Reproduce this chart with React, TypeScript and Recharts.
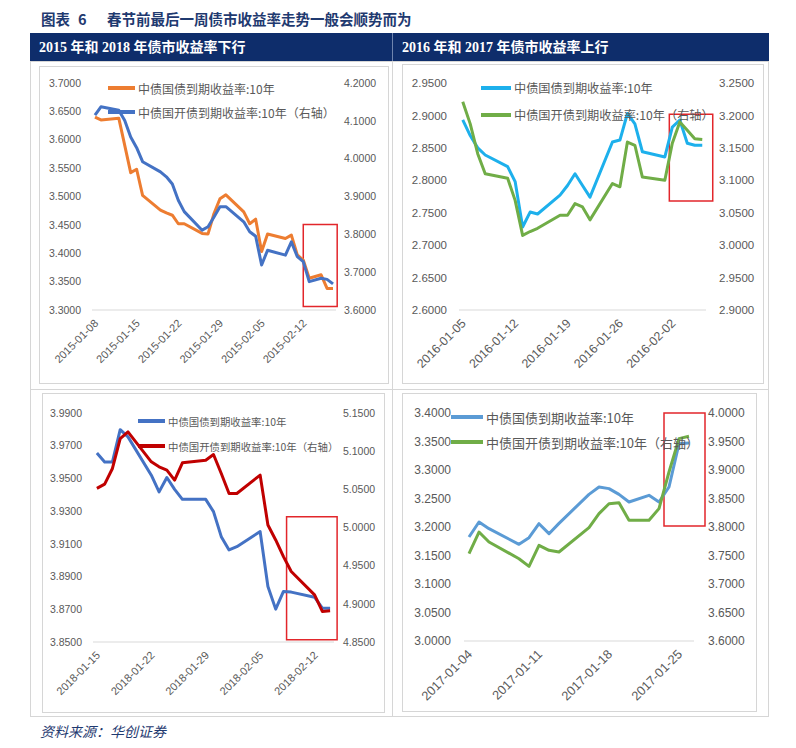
import React from "react";
import { LineChart, Line, XAxis, YAxis, ReferenceArea } from "recharts";

// 2015: trading days counted from 2015-01-08
const days2015 = [0, 1, 4, 5, 6, 7, 8, 11, 12, 13, 14, 15, 18, 19, 20, 21, 22, 25, 26, 27, 28, 29, 32, 33, 34, 35, 36, 38, 39, 40];
const gov2015 = [3.640, 3.635, 3.638, 3.590, 3.542, 3.548, 3.502, 3.476, 3.471, 3.467, 3.452, 3.452, 3.435, 3.434, 3.470, 3.496, 3.503, 3.473, 3.452, 3.460, 3.403, 3.434, 3.426, 3.432, 3.397, 3.388, 3.356, 3.362, 3.338, 3.338];
const cdb2015 = [4.115, 4.137, 4.128, 4.101, 4.057, 4.029, 3.992, 3.965, 3.952, 3.933, 3.890, 3.860, 3.811, 3.820, 3.846, 3.873, 3.873, 3.833, 3.807, 3.795, 3.719, 3.758, 3.745, 3.780, 3.741, 3.728, 3.675, 3.684, 3.681, 3.669];
const dates2015 = ["2015-01-08", "2015-01-15", "2015-01-22", "2015-01-29", "2015-02-05", "2015-02-12"];
const left2015 = [3.3, 3.35, 3.4, 3.45, 3.5, 3.55, 3.6, 3.65, 3.7];
const right2015 = [3.6, 3.7, 3.8, 3.9, 4.0, 4.1, 4.2];

// 2016: trading days counted from 2016-01-05
const days2016 = [0, 1, 2, 3, 6, 7, 8, 9, 10, 13, 14, 15, 16, 17, 20, 21, 22, 23, 24, 27, 28, 29, 30, 31, 32];
const gov2016 = [2.893, 2.869, 2.850, 2.839, 2.821, 2.798, 2.728, 2.751, 2.748, 2.777, 2.792, 2.810, 2.792, 2.774, 2.859, 2.862, 2.903, 2.887, 2.844, 2.836, 2.882, 2.893, 2.857, 2.854, 2.854];
const cdb2016 = [3.221, 3.187, 3.141, 3.110, 3.103, 3.069, 3.015, 3.021, 3.026, 3.046, 3.046, 3.064, 3.059, 3.039, 3.095, 3.090, 3.159, 3.154, 3.105, 3.100, 3.157, 3.190, 3.177, 3.164, 3.163];
const dates2016 = ["2016-01-05", "2016-01-12", "2016-01-19", "2016-01-26", "2016-02-02"];
const left2016 = [2.6, 2.65, 2.7, 2.75, 2.8, 2.85, 2.9, 2.95];
const right2016 = [2.9, 2.95, 3.0, 3.05, 3.1, 3.15, 3.2, 3.25];

// 2018: trading days counted from 2018-01-15
const days2018 = [0, 1, 2, 3, 4, 7, 8, 9, 10, 11, 14, 15, 16, 17, 18, 21, 22, 23, 24, 25, 28, 29, 30];
const gov2018 = [3.9656, 3.9601, 3.9601, 3.9798, 3.9754, 3.9520, 3.9418, 3.9506, 3.9433, 3.9372, 3.9372, 3.9297, 3.9144, 3.9063, 3.9083, 3.9175, 3.8839, 3.8701, 3.8809, 3.8805, 3.8774, 3.8707, 3.8707];
const cdb2018 = [5.0512, 5.0568, 5.0773, 5.1165, 5.1252, 5.0860, 5.0795, 5.0751, 5.0621, 5.0847, 5.0882, 5.0956, 5.0708, 5.0446, 5.0446, 5.0686, 5.0033, 4.9837, 4.9619, 4.9423, 4.9118, 4.8901, 4.8909];
const dates2018 = ["2018-01-15", "2018-01-22", "2018-01-29", "2018-02-05", "2018-02-12"];
const left2018 = [3.85, 3.87, 3.89, 3.91, 3.93, 3.95, 3.97, 3.99];
const right2018 = [4.85, 4.9, 4.95, 5.0, 5.05, 5.1, 5.15];

// 2017: trading days counted from 2017-01-04
const days2017 = [0, 1, 2, 5, 6, 7, 8, 9, 12, 13, 14, 15, 16, 18, 19, 20, 21, 22];
const gov2017 = [3.1825, 3.2088, 3.1971, 3.1696, 3.1813, 3.2058, 3.1883, 3.2064, 3.2573, 3.2702, 3.2673, 3.2573, 3.2439, 3.2556, 3.2439, 3.2702, 3.3462, 3.3474];
const cdb2017 = [3.7532, 3.7912, 3.7737, 3.7444, 3.7310, 3.7678, 3.7591, 3.7561, 3.7988, 3.8234, 3.8409, 3.8427, 3.8117, 3.8117, 3.8322, 3.8965, 3.9550, 3.9591];
const dates2017 = ["2017-01-04", "2017-01-11", "2017-01-18", "2017-01-25"];
const left2017 = [3.0, 3.05, 3.1, 3.15, 3.2, 3.25, 3.3, 3.35, 3.4];
const right2017 = [3.6, 3.65, 3.7, 3.75, 3.8, 3.85, 3.9, 3.95, 4.0];

const GOV_NAME = "中债国债到期收益率:10年";
const CDB_NAME = "中债国开债到期收益率:10年（右轴）";
const NAVY = "#0E2D6B";
const TXT = "#595959";
const BORDER = "#D6D6D6";

function DateTick(props: any) {
  const { x, y, payload, labels, fontSize } = props;
  const label = labels[Math.round(payload.value / 7)];
  return (
    <g transform={`translate(${x + 4},${y + 12})`}>
      <text textAnchor="end" transform="rotate(-45)" fontSize={fontSize} fill={TXT} fontFamily="Liberation Sans, Arial, sans-serif">
        {label}
      </text>
    </g>
  );
}

function Panel(props: any) {
  const { box, days, gov, cdb, dates, leftTicks, rightTicks, colors, ax, legend, mark } = props;
  const rows = days.map((d: number, i: number) => ({ day: d, gov: gov[i], cdb: cdb[i] }));
  const last = days[days.length - 1];
  const tickStyle = { fontSize: ax.fs, fill: TXT, fontFamily: "Liberation Sans, Arial, sans-serif" };
  return (
    <div style={{ position: "absolute", left: box.x, top: box.y, width: box.w, height: box.h, border: `1px solid ${BORDER}`, boxSizing: "border-box" }}>
      <div style={{ position: "absolute", left: -1, top: -1 }}>
        <LineChart width={box.w} height={box.h} data={rows} margin={{ top: ax.mt, right: 0, bottom: 0, left: 0 }}>
          <XAxis
            type="number"
            dataKey="day"
            domain={[-0.5, last + 0.5]}
            ticks={dates.map((_: string, i: number) => i * 7)}
            interval={0}
            height={ax.xh}
            tickLine={false}
            tickSize={0}
            axisLine={{ stroke: "#D9D9D9" }}
            tick={<DateTick labels={dates} fontSize={ax.dfs} />}
          />
          <YAxis
            yAxisId="l"
            type="number"
            domain={[leftTicks[0], leftTicks[leftTicks.length - 1]]}
            ticks={leftTicks}
            interval={0}
            width={ax.wl}
            axisLine={false}
            tickLine={false}
            tickSize={0}
            tickMargin={ax.gl}
            tick={tickStyle}
            tickFormatter={(v: number) => v.toFixed(4)}
            allowDataOverflow
          />
          <YAxis
            yAxisId="r"
            orientation="right"
            type="number"
            domain={[rightTicks[0], rightTicks[rightTicks.length - 1]]}
            ticks={rightTicks}
            interval={0}
            width={ax.wr}
            axisLine={false}
            tickLine={false}
            tickSize={0}
            tickMargin={ax.gr}
            tick={tickStyle}
            tickFormatter={(v: number) => v.toFixed(4)}
            allowDataOverflow
          />
          <Line yAxisId="l" type="linear" dataKey="gov" stroke={colors[0]} strokeWidth={3} dot={false} isAnimationActive={false} strokeLinejoin="round" />
          <Line yAxisId="r" type="linear" dataKey="cdb" stroke={colors[1]} strokeWidth={3} dot={false} isAnimationActive={false} strokeLinejoin="round" />
          <ReferenceArea yAxisId="l" x1={mark[0]} x2={mark[1]} y1={mark[2]} y2={mark[3]} fill="none" fillOpacity={0} stroke="#E2262B" strokeWidth={1.5} ifOverflow="visible" />
        </LineChart>
      </div>
      {[GOV_NAME, CDB_NAME].map((name, i) => (
        <div
          key={name}
          style={{
            position: "absolute",
            left: legend.x,
            top: legend.y + i * legend.gap - legend.gap / 2,
            height: legend.gap,
            display: "flex",
            alignItems: "center",
            whiteSpace: "nowrap",
            fontSize: legend.fs,
            color: TXT,
            fontFamily: "'Noto Sans CJK SC', sans-serif",
          }}
        >
          <span style={{ display: "inline-block", width: legend.lw, height: 4, background: colors[i], marginRight: 3 }} />
          {name}
        </div>
      ))}
    </div>
  );
}

export default function App() {
  const titleFont = { position: "absolute" as const, top: 8, fontSize: 14.5, fontWeight: 700, color: "#1F3A70", fontFamily: "'Noto Sans CJK SC', sans-serif", whiteSpace: "pre" as const };
  return (
    <div style={{ position: "absolute", left: 0, top: 0, width: 796, height: 748, background: "#fff", overflow: "hidden" }}>
      <div style={{ ...titleFont, left: 41 }}>图表</div>
      <div style={{ ...titleFont, left: 78 }}>6</div>
      <div style={{ ...titleFont, left: 107 }}>春节前最后一周债市收益率走势一般会顺势而为</div>
      <div style={{ position: "absolute", left: 30, top: 33, width: 739, height: 28, background: NAVY }} />
      <div style={{ position: "absolute", left: 392, top: 33, width: 1, height: 28, background: "#6F84AE" }} />
      {[
        { x: 39, t: "2015 年和 2018 年债市收益率下行" },
        { x: 402, t: "2016 年和 2017 年债市收益率上行" },
      ].map((h) => (
        <div key={h.t} style={{ position: "absolute", left: h.x, top: 33, height: 28, lineHeight: "30px", color: "#fff", fontSize: 14, fontWeight: 700, fontFamily: "'Liberation Serif', 'Noto Sans CJK SC', serif", whiteSpace: "pre" }}>
          {h.t}
        </div>
      ))}
      <div style={{ position: "absolute", left: 30, top: 61, width: 739, height: 656, border: `1px solid ${BORDER}`, boxSizing: "border-box" }} />
      <div style={{ position: "absolute", left: 392, top: 61, width: 1, height: 656, background: BORDER }} />
      <div style={{ position: "absolute", left: 30, top: 389, width: 739, height: 1, background: BORDER }} />

      <Panel
        box={{ x: 39, y: 66, w: 350, h: 318 }}
        days={days2015}
        gov={gov2015}
        cdb={cdb2015}
        dates={dates2015}
        leftTicks={left2015}
        rightTicks={right2015}
        colors={["#ED7D31", "#4472C4"]}
        ax={{ mt: 17, xh: 74, wl: 53, wr: 53, gl: 11, gr: 8, fs: 10.5, dfs: 11 }}
        legend={{ x: 68, y: 21, gap: 24, lw: 27, fs: 12 }}
        mark={[35, 40.7, 3.4507, 3.306]}
      />
      <Panel
        box={{ x: 402, y: 64, w: 362, h: 320 }}
        days={days2016}
        gov={gov2016}
        cdb={cdb2016}
        dates={dates2016}
        leftTicks={left2016}
        rightTicks={right2016}
        colors={["#1DB0EC", "#70AD47"]}
        ax={{ mt: 19, xh: 74, wl: 57, wr: 58, gl: 12, gr: 13, fs: 11.5, dfs: 12.4 }}
        legend={{ x: 78, y: 23, gap: 27, lw: 30, fs: 12.2 }}
        mark={[27.6, 33.4, 2.902, 2.768]}
      />
      <Panel
        box={{ x: 42, y: 393, w: 343, h: 320 }}
        days={days2018}
        gov={gov2018}
        cdb={cdb2018}
        dates={dates2018}
        leftTicks={left2018}
        rightTicks={right2018}
        colors={["#4472C4", "#C00000"]}
        ax={{ mt: 20, xh: 71, wl: 51, wr: 51, gl: 11, gr: 9, fs: 10.5, dfs: 11 }}
        legend={{ x: 95, y: 27, gap: 25, lw: 27, fs: 10.4 }}
        mark={[24.4, 30.9, 3.9266, 3.8514]}
      />
      <Panel
        box={{ x: 402, y: 393, w: 355, h: 319 }}
        days={days2017}
        gov={gov2017}
        cdb={cdb2017}
        dates={dates2017}
        leftTicks={left2017}
        rightTicks={right2017}
        colors={["#5B9BD5", "#70AD47"]}
        ax={{ mt: 20, xh: 71, wl: 62, wr: 63, gl: 13, gr: 14, fs: 12, dfs: 12.8 }}
        legend={{ x: 48, y: 23, gap: 25, lw: 32, fs: 13 }}
        mark={[19.5, 23.6, 3.4, 3.2018]}
      />

      <div style={{ position: "absolute", left: 40, top: 721, fontSize: 14, fontStyle: "italic", color: "#1F3A70", fontFamily: "'Noto Sans CJK SC', sans-serif" }}>
        资料来源：华创证券
      </div>
    </div>
  );
}
